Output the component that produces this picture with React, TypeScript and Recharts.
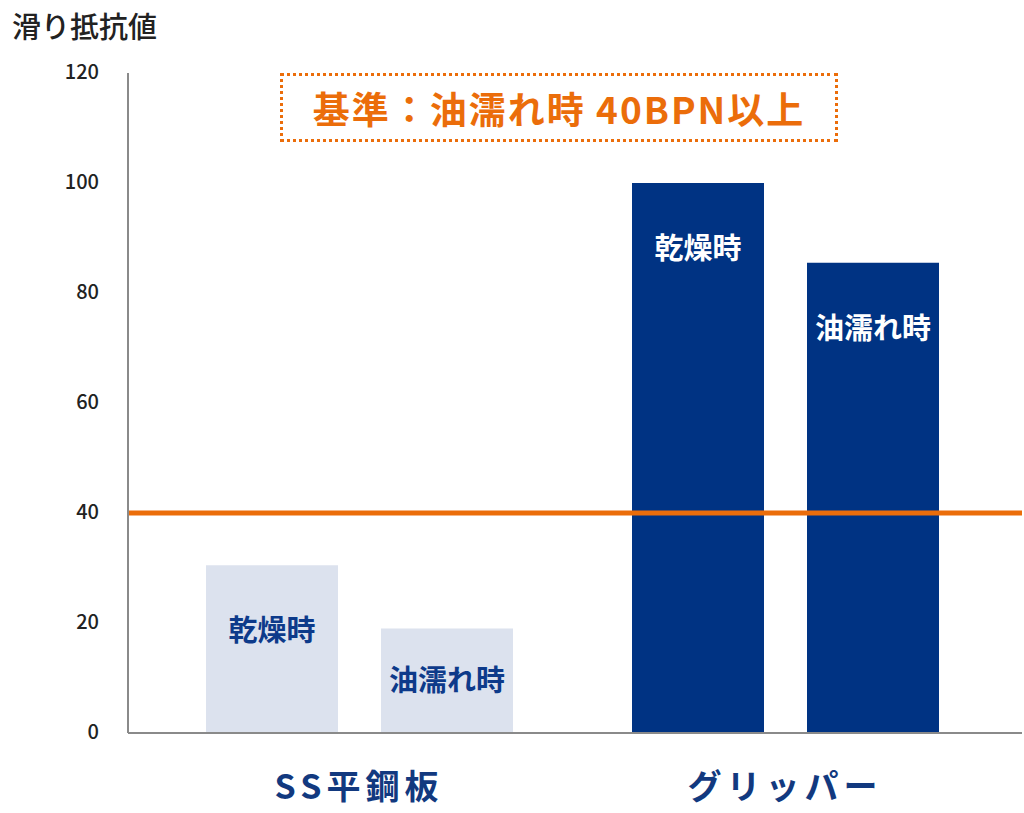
import { Bar, BarChart, Cell, LabelList, ReferenceLine, XAxis, YAxis } from 'recharts';

const categories = ['SS平鋼板', 'グリッパー'];
const dryValues = [30.5, 100];
const wetValues = [19, 85.5];
const yTicks = [0, 20, 40, 60, 80, 100, 120];
const thresholdValue = 40;

const NAVY = '#003383';
const LIGHT = '#dce2ee';
const ORANGE = '#eb6d0a';
const FONT = '"Noto Sans CJK JP", "Noto Sans", sans-serif';

const chartData = categories.map((name, i) => ({
  name,
  dry: dryValues[i],
  wet: wetValues[i],
}));

function YTick({ y, payload }: { y?: number; payload?: { value: number } }) {
  return (
    <text x={99} y={y} dy={6} textAnchor="end" fontSize={20} fontWeight={500} fill="#222" fontFamily={FONT}>
      {payload?.value}
    </text>
  );
}

function XTick({ x, y, payload }: { x?: number; y?: number; payload?: { value: string } }) {
  return (
    <text
      x={x}
      y={(y ?? 0) + 58}
      textAnchor="middle"
      fontSize={34}
      fontWeight={700}
      letterSpacing={5}
      fill="#12397f"
      fontFamily={FONT}
    >
      {payload?.value}
    </text>
  );
}

function makeBarLabel(text: string) {
  return function BarLabel(props: any) {
    const { x, y, width, height, index } = props;
    const offset = Math.min(66, height / 2);
    const onDark = index === 1;
    return (
      <text
        x={x + width / 2}
        y={y + offset}
        dy={10}
        textAnchor="middle"
        fontSize={29}
        fontWeight={700}
        fill={onDark ? '#fff' : '#0d3a8a'}
        fontFamily={FONT}
      >
        {text}
      </text>
    );
  };
}

export default function App() {
  return (
    <div style={{ position: 'absolute', left: 0, top: 0, width: 1024, height: 813, background: '#fff', fontFamily: FONT }}>
      <div
        style={{
          position: 'absolute',
          left: 12,
          top: 5,
          fontSize: 29,
          fontWeight: 500,
          color: '#222',
          lineHeight: '40px',
        }}
      >
        滑り抵抗値
      </div>
      <div
        style={{
          position: 'absolute',
          left: 280,
          top: 73,
          width: 552,
          height: 63,
          border: `3px dotted ${ORANGE}`,
          display: 'flex',
          alignItems: 'center',
          justifyContent: 'center',
          color: ORANGE,
          fontSize: 37,
          fontWeight: 700,
          letterSpacing: 2,
        }}
      >
        基準：油濡れ時 40BPN以上
      </div>
      <BarChart
        width={1024}
        height={813}
        data={chartData}
        margin={{ top: 73, right: 2, bottom: 0, left: 0 }}
        barSize={132}
        barGap={43}
        style={{ position: 'absolute', left: 0, top: 0 }}
      >
        <XAxis
          dataKey="name"
          height={80}
          padding={{ left: 18, right: 24 }}
          tickLine={false}
          axisLine={{ stroke: '#8a8a8a', strokeWidth: 2 }}
          tick={<XTick />}
          interval={0}
        />
        <YAxis
          width={128}
          domain={[0, 120]}
          ticks={yTicks}
          tickLine={false}
          axisLine={{ stroke: '#8a8a8a', strokeWidth: 2 }}
          tick={<YTick />}
          interval={0}
        />
        <Bar dataKey="dry" isAnimationActive={false}>
          {chartData.map((d, i) => (
            <Cell key={d.name} fill={i === 0 ? LIGHT : NAVY} />
          ))}
          <LabelList dataKey="dry" content={makeBarLabel('乾燥時')} />
        </Bar>
        <Bar dataKey="wet" isAnimationActive={false}>
          {chartData.map((d, i) => (
            <Cell key={d.name} fill={i === 0 ? LIGHT : NAVY} />
          ))}
          <LabelList dataKey="wet" content={makeBarLabel('油濡れ時')} />
        </Bar>
        <ReferenceLine y={thresholdValue} stroke={ORANGE} strokeWidth={5} ifOverflow="visible" />
      </BarChart>
    </div>
  );
}
